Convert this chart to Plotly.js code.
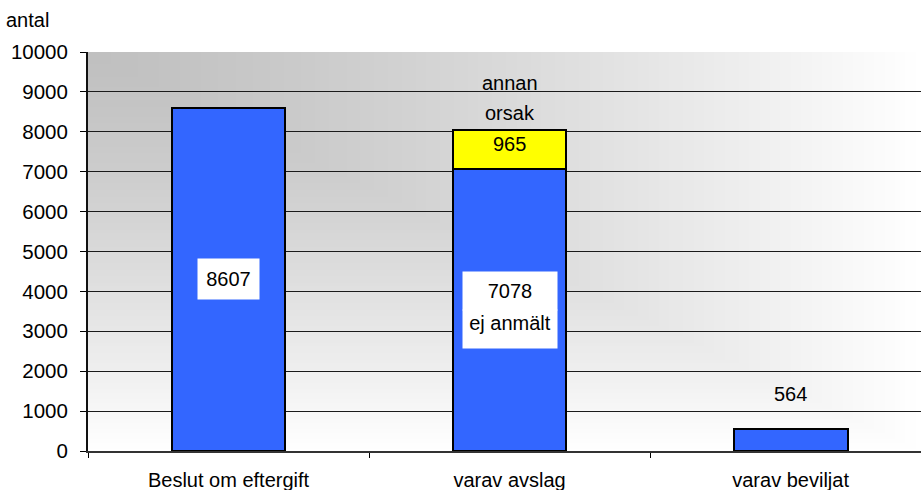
<!DOCTYPE html>
<html>
<head>
<meta charset="utf-8">
<script src="https://cdn.plot.ly/plotly-3.0.1.min.js"></script>
<style>html,body{margin:0;padding:0;background:#fff;}#chart{width:921px;height:490px;}</style>
</head>
<body>
<div id="chart"></div>
<script>
// ---- data ----
const categories = ["Beslut om eftergift", "varav avslag", "varav beviljat"];
const mainValues = [8607, 7078, 564];      // blue segments
const otherValues = [null, 965, null];     // yellow segment ("annan orsak")
const yTickVals = [0,1000,2000,3000,4000,5000,6000,7000,8000,9000,10000];
const yTickText = ["0","1000","2000","3000","4000","5000","6000","7000","8000","9000","10000"];
const yTitle = "antal";

// ---- background gradient (from top-left corner, Excel style) ----
function gradientURL() {
  const W = 240, H = 120;
  const c = document.createElement("canvas");
  c.width = W; c.height = H;
  const ctx = c.getContext("2d");
  const img = ctx.createImageData(W, H);
  for (let j = 0; j < H; j++) {
    for (let i = 0; i < W; i++) {
      const t = Math.max(i / (W - 1), j / (H - 1));
      const v = Math.round(192 + 63 * Math.pow(t, 1.3));
      const k = (j * W + i) * 4;
      img.data[k] = v; img.data[k+1] = v; img.data[k+2] = v; img.data[k+3] = 255;
    }
  }
  ctx.putImageData(img, 0, 0);
  return c.toDataURL("image/png");
}

const FONT = "Liberation Sans, Arial, sans-serif";
const barWidth = 0.405;

const traces = [
  {
    type: "bar", x: categories, y: mainValues, width: barWidth,
    marker: {color: "#3366FF", line: {color: "#000", width: 2}},
    hoverinfo: "skip"
  },
  {
    type: "bar", x: categories, y: otherValues, width: barWidth,
    marker: {color: "#FFFF00", line: {color: "#000", width: 2}},
    hoverinfo: "skip"
  }
];

const txtFont = {family: FONT, size: 20, color: "#000"};
const annotations = [
  {x: categories[0], y: mainValues[0] / 2, text: String(mainValues[0]), showarrow: false,
   font: txtFont, bgcolor: "#fff", width: 57, height: 36, borderpad: 2},
  {x: categories[1], y: mainValues[1] / 2, yshift: 19, text: String(mainValues[1]), showarrow: false,
   font: txtFont, bgcolor: "#fff", width: 90, height: 34, borderpad: 2, valign: "middle"},
  {x: categories[1], y: mainValues[1] / 2, yshift: -19, text: "ej anmält", showarrow: false,
   font: txtFont, bgcolor: "#fff", width: 90, height: 34, borderpad: 2, valign: "top"},
  {x: categories[1], y: mainValues[1] + otherValues[1] / 2, yshift: 5, text: String(otherValues[1]),
   showarrow: false, font: txtFont},
  {x: categories[1], y: mainValues[1] + otherValues[1], yshift: 17, text: "orsak", showarrow: false, font: txtFont},
  {x: categories[1], y: mainValues[1] + otherValues[1], yshift: 47, text: "annan", showarrow: false, font: txtFont},
  {x: categories[2], y: mainValues[2], yshift: 35, text: String(mainValues[2]), showarrow: false, font: txtFont},
  {xref: "paper", yref: "paper", x: 0, y: 1, xanchor: "left", yanchor: "middle",
   xshift: -84, yshift: 32, text: yTitle, showarrow: false, font: txtFont}
];

const layout = {
  width: 921, height: 490,
  margin: {l: 88, r: 0, t: 52, b: 39, pad: 0},
  paper_bgcolor: "#fff",
  plot_bgcolor: "rgba(0,0,0,0)",
  barmode: "stack",
  showlegend: false,
  font: {family: FONT, size: 20, color: "#000"},
  xaxis: {
    type: "category", range: [-0.5, 2.464], tickson: "boundaries",
    ticks: "outside", ticklen: 5, tickcolor: "#000", tickwidth: 1,
    showline: true, linecolor: "#333", linewidth: 2,
    showgrid: false, zeroline: false,
    tickfont: {family: FONT, size: 20, color: "#000"},
    ticklabelstandoff: 10, fixedrange: true
  },
  yaxis: {
    range: [0, 10000], tickvals: yTickVals, ticktext: yTickText,
    ticks: "outside", ticklen: 6, tickcolor: "#000", tickwidth: 1,
    showline: true, linecolor: "#111", linewidth: 2,
    showgrid: true, gridcolor: "#1a1a1a", gridwidth: 1, zeroline: false,
    tickfont: {family: FONT, size: 20.5, color: "#000"},
    ticklabelstandoff: 8, fixedrange: true
  },
  images: [{
    source: gradientURL(), xref: "paper", yref: "paper",
    x: 0, y: 1, sizex: 1, sizey: 1, xanchor: "left", yanchor: "top",
    sizing: "stretch", layer: "below"
  }],
  annotations: annotations
};

Plotly.newPlot("chart", traces, layout, {displayModeBar: false, staticPlot: true});
</script>
</body>
</html>
